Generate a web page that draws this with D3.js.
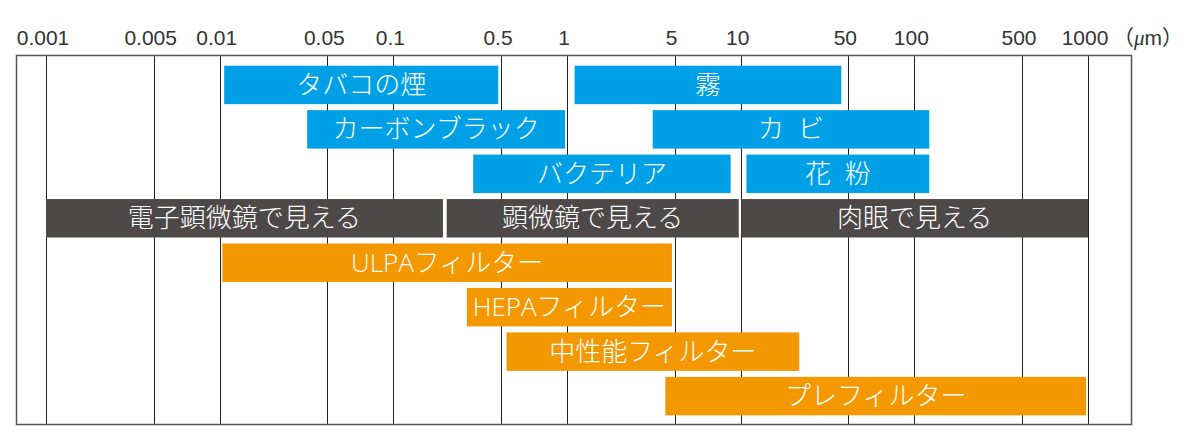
<!DOCTYPE html>
<html>
<head>
<meta charset="utf-8">
<script src="https://cdn.jsdelivr.net/npm/d3@7"></script>
<style>
  html, body { margin: 0; padding: 0; background: #fff; }
  svg { display: block; }
</style>
</head>
<body>
<svg id="chart" width="1200" height="432"></svg>
<script>
// ---- data ----
const tickValues = [0.001, 0.005, 0.01, 0.05, 0.1, 0.5, 1, 5, 10, 50, 100, 500, 1000];
const tickLabels = ["0.001", "0.005", "0.01", "0.05", "0.1", "0.5", "1", "5", "10", "50", "100", "500", "1000"];
const unitLabel = "μm";

const labels = ["タバコの煙", "霧", "カーボンブラック", "カ ビ", "バクテリア", "花 粉",
                "電子顕微鏡で見える", "顕微鏡で見える", "肉眼で見える",
                "ULPAフィルター", "HEPAフィルター", "中性能フィルター", "プレフィルター"];
const rows   = [0, 0, 1, 1, 2, 2, 3, 3, 3, 4, 5, 6, 7];
const minVal = [0.0107, 1.12, 0.037, 3.6, 0.33, 10.9, 0.001, 0.222, 10.1, 0.0104, 0.3, 0.53, 4.35];
const maxVal = [0.48, 45, 0.98, 125, 9, 125, 0.21, 9.8, 1000, 4.8, 4.8, 24, 980];
const groups = ["particle", "particle", "particle", "particle", "particle", "particle",
                "visible", "visible", "visible",
                "filter", "filter", "filter", "filter"];

// ---- layout ----
const svg = d3.select("#chart");
const box = {x0: 16, x1: 1131, y0: 55, y1: 424};
const colors = {particle: "#00A0E6", visible: "#4D4948", filter: "#F39800"};

// decade scale (log10 exponent -> px); "5" ticks sit at 0.62 of a decade in the original
const decade = d3.scaleLinear().domain([-3, 3]).range([46, 1088]);
const tickPos = tickValues.map(v => {
  const e = Math.floor(Math.log10(v) + 1e-9);
  const m = Math.round(v / Math.pow(10, e));
  return decade(e + (m === 5 ? 0.62 : 0));
});
const x = d3.scaleLog().domain(tickValues).range(tickPos);
const y = d3.scaleBand().domain(d3.range(8)).range([65.7, 415.3]).paddingInner(0.135).paddingOuter(0);

// frame background
svg.append("rect")
  .attr("x", box.x0).attr("y", box.y0)
  .attr("width", box.x1 - box.x0).attr("height", box.y1 - box.y0)
  .attr("fill", "#fff");

// gridlines
svg.append("g").selectAll("line").data(tickValues).join("line")
  .attr("x1", d => Math.round(x(d)) + 0.5).attr("x2", d => Math.round(x(d)) + 0.5)
  .attr("y1", box.y0).attr("y2", box.y1)
  .attr("stroke", "#222").attr("stroke-width", 1);

// tick labels
svg.append("g").selectAll("text").data(tickValues).join("text")
  .attr("x", (d, i) => x(d) - 3)
  .attr("y", 45)
  .attr("text-anchor", "middle")
  .attr("font-family", "'Liberation Sans', Arial, sans-serif")
  .attr("font-size", 21)
  .attr("fill", "#333")
  .text((d, i) => tickLabels[i]);

// unit label
const unit = svg.append("text")
  .attr("x", 1113).attr("y", 45)
  .attr("font-family", "'Noto Sans CJK JP', sans-serif")
  .attr("font-size", 21)
  .attr("fill", "#333");
unit.append("tspan").text("（");
unit.append("tspan").attr("font-style", "italic").attr("font-family", "'Liberation Serif', serif").text(unitLabel.charAt(0));
unit.append("tspan").attr("font-family", "'Liberation Sans', sans-serif").text(unitLabel.slice(1));
unit.append("tspan").text("）");

// bars
const idx = d3.range(labels.length);
svg.append("g").selectAll("rect").data(idx).join("rect")
  .attr("x", i => x(minVal[i]))
  .attr("width", i => x(maxVal[i]) - x(minVal[i]))
  .attr("y", i => y(rows[i]))
  .attr("height", y.bandwidth())
  .attr("fill", i => colors[groups[i]]);

// bar labels
svg.append("g").selectAll("text").data(idx).join("text")
  .attr("x", i => (x(minVal[i]) + x(maxVal[i])) / 2)
  .attr("y", i => y(rows[i]) + y.bandwidth() / 2 + 9)
  .attr("text-anchor", "middle")
  .attr("font-family", "'Open Sans', 'Noto Sans CJK JP', sans-serif")
  .attr("font-weight", 300)
  .attr("font-size", 26)
  .attr("word-spacing", 7)
  .style("white-space", "pre")
  .attr("fill", "#fff")
  .text(i => labels[i]);

// frame border
svg.append("rect")
  .attr("x", box.x0 + 0.5).attr("y", box.y0 + 0.5)
  .attr("width", box.x1 - box.x0).attr("height", box.y1 - box.y0)
  .attr("fill", "none")
  .attr("stroke", "#555").attr("stroke-width", 1.5);
</script>
</body>
</html>
